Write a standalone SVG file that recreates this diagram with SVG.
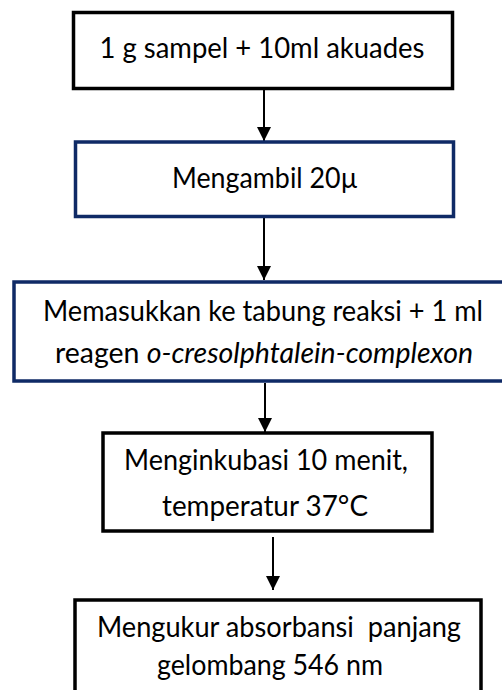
<svg xmlns="http://www.w3.org/2000/svg" width="502" height="690" viewBox="0 0 502 690">
<defs>
<marker id="ah" markerWidth="7" markerHeight="7" refX="7" refY="3.5" orient="auto" markerUnits="strokeWidth">
<path d="M0,0 L7,3.5 L0,7 Z" fill="#000"/>
</marker>
<style>
.box{fill:#fff;stroke-width:3.5}
.blk{stroke:#000}
.nav{stroke:#0f2a66}
.t{font-family:Lato,"Liberation Sans",sans-serif;font-size:28px;fill:#000;text-anchor:middle;white-space:pre}
.c{stroke:#000;stroke-width:2;fill:none;marker-end:url(#ah)}
</style>
</defs>
<rect width="502" height="690" fill="#fff"/>
<g id="connectors">
<line class="c" x1="264" y1="90" x2="264" y2="141"/>
<line class="c" x1="264" y1="218" x2="264" y2="280"/>
<line class="c" x1="265" y1="383" x2="265" y2="432"/>
<line class="c" x1="273" y1="537" x2="273" y2="590"/>
</g>
<g id="n1">
<rect class="box blk" x="73.5" y="12.5" width="379" height="76"/>
<text class="t" x="262" y="58" textLength="325" lengthAdjust="spacingAndGlyphs">1 g sampel + 10ml akuades</text>
</g>
<g id="n2">
<rect class="box nav" x="75.5" y="142" width="378" height="74.5"/>
<text class="t" x="265" y="188" textLength="186" lengthAdjust="spacingAndGlyphs">Mengambil 20µ</text>
</g>
<g id="n3">
<rect class="box nav" x="14" y="282" width="500" height="99"/>
<text class="t" x="263" y="321" textLength="440" lengthAdjust="spacingAndGlyphs">Memasukkan ke tabung reaksi + 1 ml</text>
<text class="t" x="264" y="363" textLength="418" lengthAdjust="spacingAndGlyphs">reagen <tspan font-style="italic">o-cresolphtalein-complexon</tspan></text>
</g>
<g id="n4">
<rect class="box blk" x="103" y="433" width="329" height="98"/>
<text class="t" x="266" y="470" textLength="284" lengthAdjust="spacingAndGlyphs">Menginkubasi 10 menit,</text>
<text class="t" x="265" y="516" textLength="206" lengthAdjust="spacingAndGlyphs">temperatur 37°C</text>
</g>
<g id="n5">
<rect class="box blk" x="75" y="600" width="406" height="100"/>
<text class="t" x="279" y="637" textLength="364" lengthAdjust="spacingAndGlyphs">Mengukur absorbansi  panjang</text>
<text class="t" x="270" y="675" textLength="226" lengthAdjust="spacingAndGlyphs">gelombang 546 nm</text>
</g>
</svg>
